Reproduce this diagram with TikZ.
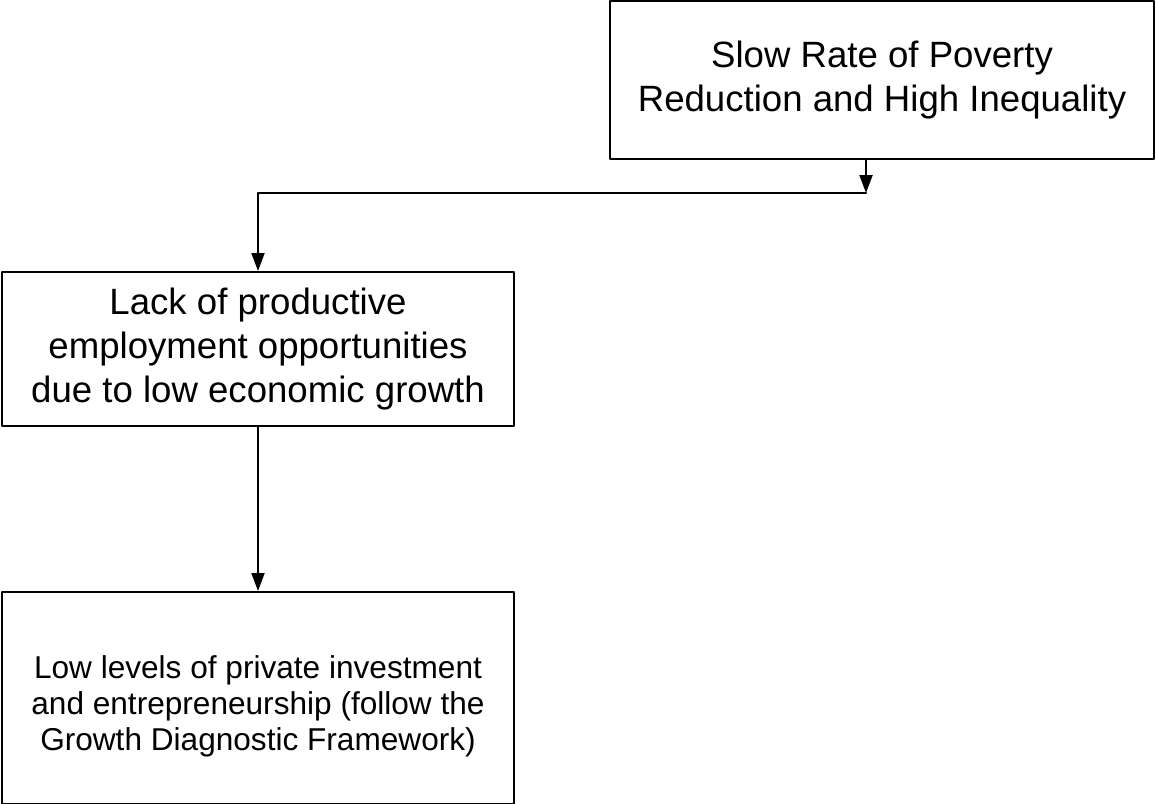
\documentclass[tikz,border=0pt]{standalone}
\usepackage{fontspec}
\setmainfont{Liberation Sans}
\usetikzlibrary{arrows.meta}
\begin{document}
\begin{tikzpicture}[line cap=round,line join=round,>={Triangle[length=9pt,width=6.5pt]},x=0.5pt,y=-0.5pt,line width=1pt,
		box/.style={draw,align=center,inner sep=0pt}]
		\useasboundingbox (0,0) rectangle (1156,803);
		\node[box,minimum width=272pt,minimum height=79pt,font=\fontsize{18.3}{22}\selectfont] (slow) at (882,80) {Slow Rate of Poverty\\Reduction and High Inequality};
		\node[box,minimum width=256pt,minimum height=77pt,font=\fontsize{18.3}{22}\selectfont] (lack) at (258,349) {Lack of productive\\employment opportunities\\due to low economic growth};
		\node[box,minimum width=256pt,minimum height=106pt,text height=55.5pt,font=\fontsize{15.8}{18}\selectfont] (low) at (258,698) {Low levels of private investment\\and entrepreneurship (follow the\\Growth Diagnostic Framework)};
		\coordinate (elbow) at (866,193);
		\draw[->] (slow.south -| elbow)-- (elbow);
		\draw[->] (elbow) -| (lack.north);
		\draw[->] (lack)-- (low);
		\end{tikzpicture}
\end{document}
